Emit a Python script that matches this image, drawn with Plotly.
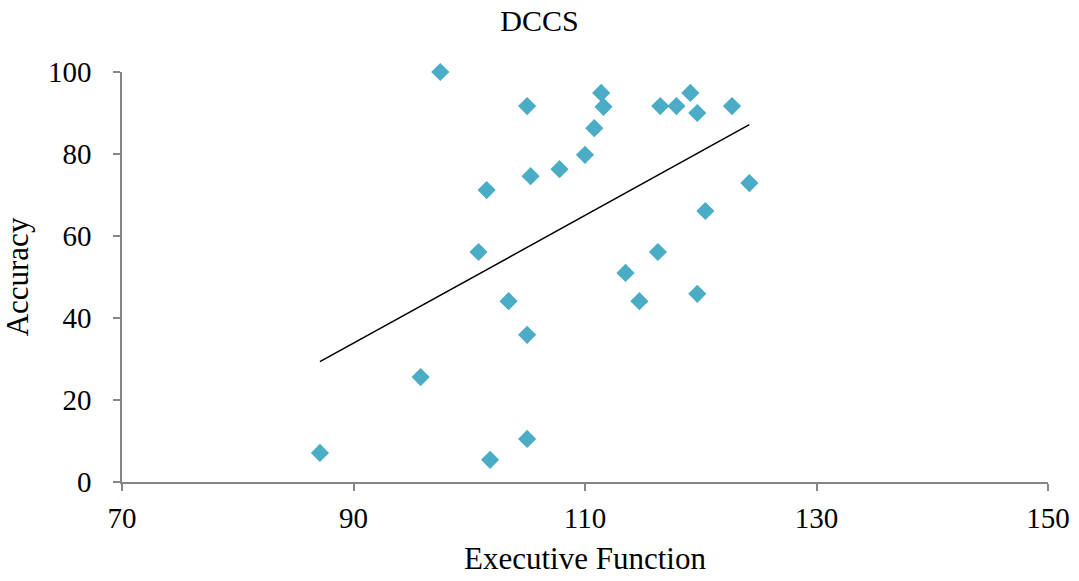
import numpy as np
import plotly.graph_objects as go

exec_function = [87.1, 95.8, 97.5, 100.8, 101.5, 101.8, 103.4, 105.0, 105.0, 105.0,
                 105.3, 107.8, 110.0, 110.8, 111.4, 111.6, 113.5, 114.7, 116.3, 116.5,
                 117.9, 119.1, 119.7, 119.7, 120.4, 122.7, 124.2]
accuracy = [7.1, 25.6, 100.0, 56.1, 71.2, 5.4, 44.1, 91.7, 35.9, 10.5,
            74.6, 76.3, 79.8, 86.3, 94.9, 91.5, 51.0, 44.1, 56.1, 91.7,
            91.7, 94.9, 45.9, 90.0, 66.1, 91.7, 72.9]

x_ticks = [70, 90, 110, 130, 150]
y_ticks = [0, 20, 40, 60, 80, 100]

slope, intercept = np.polyfit(exec_function, accuracy, 1)
tx = [min(exec_function), max(exec_function)]
ty = [slope * v + intercept for v in tx]

fig = go.Figure()
fig.add_trace(go.Scatter(x=tx, y=ty, mode="lines",
                         line=dict(color="black", width=1.5),
                         hoverinfo="skip", cliponaxis=False))
fig.add_trace(go.Scatter(x=exec_function, y=accuracy, mode="markers",
                         marker=dict(symbol="diamond", size=14, color="#4BACC6",
                                     line=dict(width=0)),
                         cliponaxis=False))

W, H = 1079, 581
font_family = "Liberation Serif, Times New Roman, serif"
fig.update_layout(
    width=W, height=H,
    margin=dict(l=122, r=31, t=72, b=99, autoexpand=False),
    paper_bgcolor="white", plot_bgcolor="white",
    showlegend=False,
    font=dict(family=font_family, color="black", size=29),
    title=dict(text="DCCS", x=0.5, xref="container", xanchor="center",
               y=1 - 20 / H, yanchor="middle", yref="container",
               font=dict(family=font_family, size=30, color="black")),
)
fig.update_xaxes(range=[70, 150], tickvals=x_ticks, ticktext=[str(v) for v in x_ticks],
                 showgrid=False, zeroline=False, showline=True, linecolor="#868686",
                 linewidth=1.5, ticks="outside", tickcolor="#868686", ticklen=7,
                 tickwidth=1.5, tickfont=dict(size=29), ticklabelstandoff=2,
                 automargin=False,
                 title=dict(text="Executive Function", font=dict(size=31), standoff=15))
fig.update_yaxes(range=[0, 100], tickvals=y_ticks, ticktext=[str(v) for v in y_ticks],
                 showgrid=False, zeroline=False, showline=True, linecolor="#868686",
                 linewidth=1.5, ticks="outside", tickcolor="#868686", ticklen=7,
                 tickwidth=1.5, tickfont=dict(size=29), ticklabelstandoff=16,
                 automargin=False,
                 title=dict(text="Accuracy", font=dict(size=31), standoff=12))

fig.write_html("out.html",
               config={"displayModeBar": False},
               post_script="document.body.style.margin='0';document.body.style.overflow='hidden';")
